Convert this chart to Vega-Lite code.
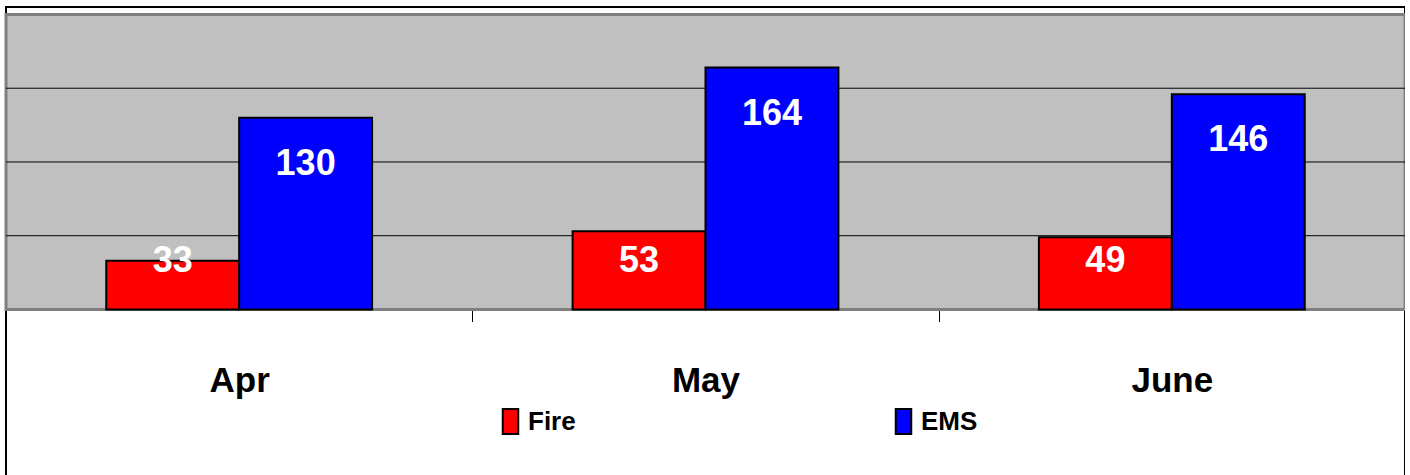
{
  "$schema": "https://vega.github.io/schema/vega-lite/v6.json",
  "autosize": {"type": "none"},
  "padding": {"left": 6, "top": 7, "right": 0, "bottom": 0},
  "width": 1399,
  "height": 470,
  "background": "white",
  "config": {
    "view": {"stroke": "black", "strokeWidth": 2},
    "font": "Liberation Sans, Arial, sans-serif"
  },
  "data": {
    "values": [
      {"month": "Apr", "series": "Fire", "value": 33},
      {"month": "Apr", "series": "EMS", "value": 130},
      {"month": "May", "series": "Fire", "value": 53},
      {"month": "May", "series": "EMS", "value": 164},
      {"month": "June", "series": "Fire", "value": 49},
      {"month": "June", "series": "EMS", "value": 146}
    ]
  },
  "layer": [
    {
      "data": {"values": [{}]},
      "mark": {"type": "rect", "fill": "#C0C0C0", "stroke": "#808080", "strokeWidth": 3},
      "encoding": {
        "y": {"datum": 0, "type": "quantitative", "scale": {"domain": [-113.6, 205.08], "nice": false, "zero": false}, "axis": null},
        "y2": {"datum": 200}
      }
    },
    {
      "data": {"values": [{}]},
      "mark": {"type": "rule", "color": "black", "strokeWidth": 1},
      "encoding": {"y": {"datum": 50, "type": "quantitative"}}
    },
    {
      "data": {"values": [{}]},
      "mark": {"type": "rule", "color": "black", "strokeWidth": 1},
      "encoding": {"y": {"datum": 100, "type": "quantitative"}}
    },
    {
      "data": {"values": [{}]},
      "mark": {"type": "rule", "color": "black", "strokeWidth": 1},
      "encoding": {"y": {"datum": 150, "type": "quantitative"}}
    },
    {
      "mark": {"type": "bar", "stroke": "black", "strokeWidth": 2},
      "encoding": {
        "x": {
          "field": "month", "type": "nominal", "sort": ["Apr", "May", "June"],
          "scale": {"paddingInner": 0.43, "paddingOuter": 0.215},
          "axis": {
            "orient": "bottom", "offset": -167.5, "tickOffset": -233.2, "labelOffset": 233.2, "domain": false,
            "ticks": true, "tickSize": 12, "tickColor": "black", "tickWidth": 1,
            "labelFontSize": 35, "labelFontWeight": "bold", "labelColor": "black",
            "labelBaseline": "alphabetic", "labelPadding": 69.5, "labelAngle": 0,
            "title": null, "grid": false
          }
        },
        "xOffset": {"field": "series", "type": "nominal", "sort": ["Fire", "EMS"], "scale": {"paddingInner": 0, "paddingOuter": 0}},
        "y": {"field": "value", "type": "quantitative"},
        "color": {
          "field": "series", "type": "nominal",
          "scale": {"domain": ["Fire", "EMS"], "range": ["#FF0000", "#0000FF"]},
          "legend": {
            "title": null, "orient": "none", "legendX": 491, "legendY": 401,
            "direction": "horizontal", "columns": 2, "columnPadding": 314,
            "symbolType": "M-0.62,-1H0.62V1H-0.62Z", "symbolSize": 625,
            "symbolStrokeColor": "black", "symbolStrokeWidth": 2, "symbolOpacity": 1,
            "labelFontSize": 26, "labelFontWeight": "bold", "labelColor": "black",
            "labelOffset": 4, "padding": 0
          }
        }
      }
    },
    {
      "transform": [{"filter": "datum.series === 'EMS'"}],
      "mark": {"type": "text", "baseline": "middle", "align": "center", "dy": 46, "fill": "white", "fontSize": 36, "fontWeight": "bold"},
      "encoding": {
        "x": {"field": "month", "type": "nominal", "sort": ["Apr", "May", "June"]},
        "xOffset": {"field": "series", "type": "nominal", "sort": ["Fire", "EMS"]},
        "y": {"field": "value", "type": "quantitative"},
        "text": {"field": "value", "type": "quantitative"}
      }
    },
    {
      "transform": [{"filter": "datum.series === 'Fire'"}],
      "mark": {"type": "text", "baseline": "middle", "align": "center", "fill": "white", "fontSize": 36, "fontWeight": "bold"},
      "encoding": {
        "x": {"field": "month", "type": "nominal", "sort": ["Apr", "May", "June"]},
        "xOffset": {"field": "series", "type": "nominal", "sort": ["Fire", "EMS"]},
        "y": {"datum": 33, "type": "quantitative"},
        "text": {"field": "value", "type": "quantitative"}
      }
    }
  ]
}
